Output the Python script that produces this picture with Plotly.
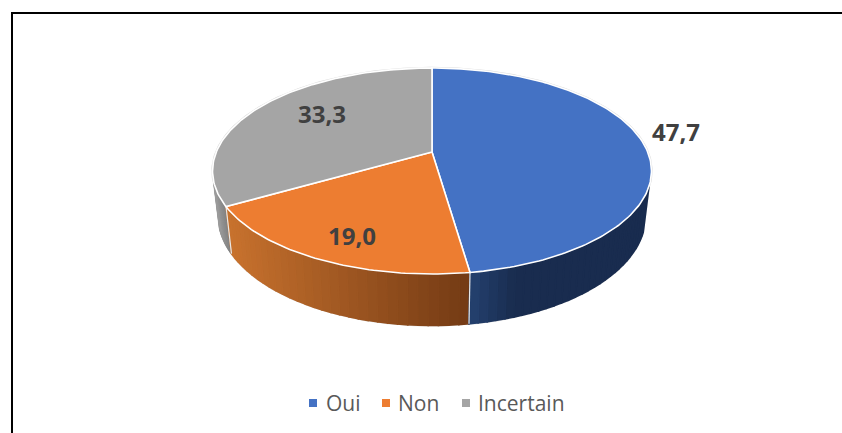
import math
import plotly.graph_objects as go

CATEGORIES = ["Oui", "Non", "Incertain"]
VALUES = [47.7, 19.0, 33.3]
TOP_COLORS = ["#4472C4", "#ED7D31", "#A5A5A5"]
WALL_LEFT = ["#24416f", "#c8722e", "#9a9a9a"]
WALL_RIGHT = ["#192c4f", "#733a14", "#7e7e7e"]

# Projection of the unit disc on to the page (pixel-scaled axes)
CX, CY, AX, BY, K = 432, 152, 215.7, 99.5, 0.1845
CX2, CY2, AX2, BY2 = 432, 195.5, 210.0, 106.0


def top(deg):
    t = math.radians(deg)
    u, v = math.sin(t), math.cos(t)
    w = 1 + K * v
    return CX + AX * u / w, CY - BY * v / w


def bottom(deg):
    t = math.radians(deg)
    u, v = math.sin(t), math.cos(t)
    w = 1 + K * v
    return CX2 + AX2 * u / w, CY2 - BY2 * v / w


def mix(c1, c2, t):
    a = [int(c1[i:i + 2], 16) for i in (1, 3, 5)]
    b = [int(c2[i:i + 2], 16) for i in (1, 3, 5)]
    return "rgb({},{},{})".format(*[round(x + (y - x) * t) for x, y in zip(a, b)])


total = sum(VALUES)
edges = [0.0]
for val in VALUES:
    edges.append(edges[-1] + 360.0 * val / total)

fig = go.Figure()


def poly(xs, ys, fill, line_color, width=1.0):
    fig.add_trace(go.Scatter(x=xs, y=ys, mode="lines", fill="toself", fillcolor=fill,
                             line=dict(color=line_color, width=width),
                             hoverinfo="skip", showlegend=False))


def stroke(pts, color, width):
    fig.add_trace(go.Scatter(x=[p[0] for p in pts], y=[p[1] for p in pts], mode="lines",
                             line=dict(color=color, width=width),
                             hoverinfo="skip", showlegend=False))


# faint outer rim
stroke([top(a) for a in range(-110, 112)], "#dcdcdc", 2.4)
stroke([top(109), bottom(109)] + [bottom(a) for a in range(110, 253)] + [bottom(253), top(253)],
       "#dedede", 2.2)

# side walls, visible part only
WALL_RANGES = [(109.0, edges[1]), (edges[1], edges[2]), (edges[2], 253.0)]
for idx in (2, 1, 0):
    a0, a1 = WALL_RANGES[idx]
    n = 30
    x_lo = min(top(a0)[0], top(a1)[0])
    x_hi = max(top(a0)[0], top(a1)[0])
    for s in range(n):
        p0 = a0 + (a1 - a0) * s / n
        p1 = a0 + (a1 - a0) * (s + 1) / n
        a, b = top(p0), top(p1)
        c, d = bottom(p1), bottom(p0)
        frac = ((a[0] + b[0]) / 2 - x_lo) / (x_hi - x_lo)
        if idx == 0:
            frac = min(1.0, frac * 4)  # the blue wall darkens quickly, then stays flat
        col = mix(WALL_LEFT[idx], WALL_RIGHT[idx], frac)
        poly([a[0], b[0], c[0], d[0], a[0]], [a[1], b[1], c[1], d[1], a[1]], col, col, 1.6)

# wall separators
stroke([top(edges[1]), bottom(edges[1])], "#e8e8e8", 1.2)
stroke([top(edges[2]), bottom(edges[2])], "#e8e8e8", 1.2)

# top face
for idx in range(3):
    steps = max(8, int(edges[idx + 1] - edges[idx]))
    pts = [top(edges[idx] + (edges[idx + 1] - edges[idx]) * s / steps) for s in range(steps + 1)]
    xs = [CX] + [p[0] for p in pts] + [CX]
    ys = [CY] + [p[1] for p in pts] + [CY]
    poly(xs, ys, TOP_COLORS[idx], "#ffffff", 1.6)

# value labels
LABEL_X = [676, 352, 322]
LABEL_Y = [135, 239, 117]
fig.add_trace(go.Scatter(x=LABEL_X, y=LABEL_Y, mode="text",
                         text=[f"{v:.1f}".replace(".", ",") for v in VALUES],
                         textposition="middle center",
                         textfont=dict(family="Open Sans", size=24, color="#404040", weight="bold"),
                         hoverinfo="skip", showlegend=False))

# legend entries, placed on the page as in the reference
LEGEND_MARK_X = [313, 386, 466]
LEGEND_TEXT_X = [326, 398, 478]
LEGEND_MARK_Y = 403
LEGEND_TEXT_Y = 406
for name, color, mx, tx in zip(CATEGORIES, TOP_COLORS, LEGEND_MARK_X, LEGEND_TEXT_X):
    fig.add_trace(go.Scatter(x=[mx], y=[LEGEND_MARK_Y], mode="markers", name=name,
                             marker=dict(symbol="square", size=8, color=color),
                             hoverinfo="skip", showlegend=False))
    fig.add_trace(go.Scatter(x=[tx], y=[LEGEND_TEXT_Y], mode="text", name=name,
                             text=[name], textposition="middle right",
                             textfont=dict(family="Open Sans", size=21, color="#595959"),
                             hoverinfo="skip", showlegend=False))

fig.update_layout(
    width=842, height=433, margin=dict(l=0, r=0, t=0, b=0),
    paper_bgcolor="white", plot_bgcolor="white", showlegend=False,
    xaxis=dict(range=[0, 842], visible=False, fixedrange=True),
    yaxis=dict(range=[433, 0], visible=False, fixedrange=True),
    shapes=[dict(type="line", xref="x", yref="y", x0=12, x1=12, y0=433, y1=13,
                 line=dict(color="black", width=2)),
            dict(type="line", xref="x", yref="y", x0=11, x1=842, y0=13, y1=13,
                 line=dict(color="black", width=2))],
)

fig.write_html("out.html", config={"displayModeBar": False},
               post_script="document.body.style.margin='0';document.body.style.overflow='hidden';")
